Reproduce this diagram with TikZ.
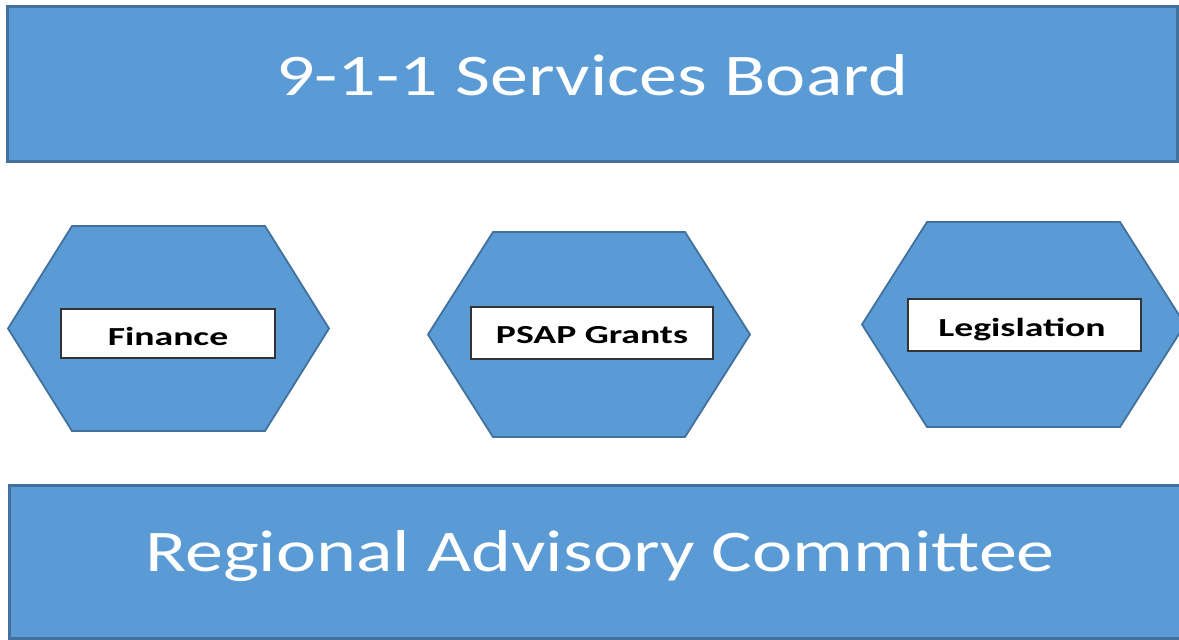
\documentclass[tikz,border=0pt]{standalone}
\usepackage{fontspec}
\setmainfont{Carlito}
\usepackage{graphicx}
\definecolor{boxfill}{HTML}{5B9BD5}
\definecolor{boxline}{HTML}{41719C}
\definecolor{lblline}{HTML}{333333}
\tikzset{
  bigbar/.style={draw=boxline, line width=3pt, fill=boxfill, inner sep=0pt},
  hexshape/.style={draw=boxline, line width=1.8pt, fill=boxfill, line join=miter},
  lblbox/.style={draw=lblline, line width=1.2pt, fill=white, inner sep=0pt},
  bigtext/.style={text=white, inner sep=0pt, anchor=base, font=\fontsize{59}{60}\selectfont},
  lbltext/.style={text=black, inner sep=0pt, anchor=base, font=\fontsize{26}{28}\selectfont\bfseries},
}
% \hexa{name}{cx}{cy}{half width}{half top edge}{half height}
\newcommand{\hexa}[6]{%
  \coordinate (#1) at (#2,#3);
  \path[hexshape] ($(#1)+(-#4,0)$) -- ($(#1)+(-#5,-#6)$) -- ($(#1)+(#5,-#6)$)
    -- ($(#1)+(#4,0)$) -- ($(#1)+(#5,#6)$) -- ($(#1)+(-#5,#6)$) -- cycle;}
\usetikzlibrary{calc}
\begin{document}
\begin{tikzpicture}[x=1pt,y=-1pt]
\useasboundingbox (0,0) rectangle (1179,640);
% top and bottom bars
\node[bigbar, minimum width=1170pt, minimum height=155pt] (board) at (592,83.5) {};
\node[bigtext] (boardtxt) at (592,95) {\scalebox{1.29}[1]{9-1-1 Services Board}};
\node[bigbar, minimum width=1181pt, minimum height=153pt] (rac) at (599.5,561.5) {};
\node[bigtext] (ractxt) at (600,571) {\scalebox{1.29}[1]{Regional Advisory Committee}};
% hexagons
\hexa{hexA}{168.5}{328.5}{160.5}{96.5}{102.5}
\hexa{hexB}{589}{334.5}{161}{96}{102.5}
\hexa{hexC}{1023.5}{324.5}{161.5}{96.5}{102.5}
% labels
\node[lblbox, minimum width=214pt, minimum height=49pt] (finbox) at (168,333.5) {};
\node[lbltext] (fintxt) at (168,345) {\scalebox{1.45}[1]{Finance}};
\node[lblbox, minimum width=242pt, minimum height=52pt] (psapbox) at (592,333) {};
\node[lbltext] (psaptxt) at (592,343) {\scalebox{1.45}[1]{PSAP Grants}};
\node[lblbox, minimum width=233pt, minimum height=52pt] (legbox) at (1024.5,325) {};
\node[lbltext] (legtxt) at (1022,336) {\scalebox{1.45}[1]{Legislation}};
\end{tikzpicture}
\end{document}
